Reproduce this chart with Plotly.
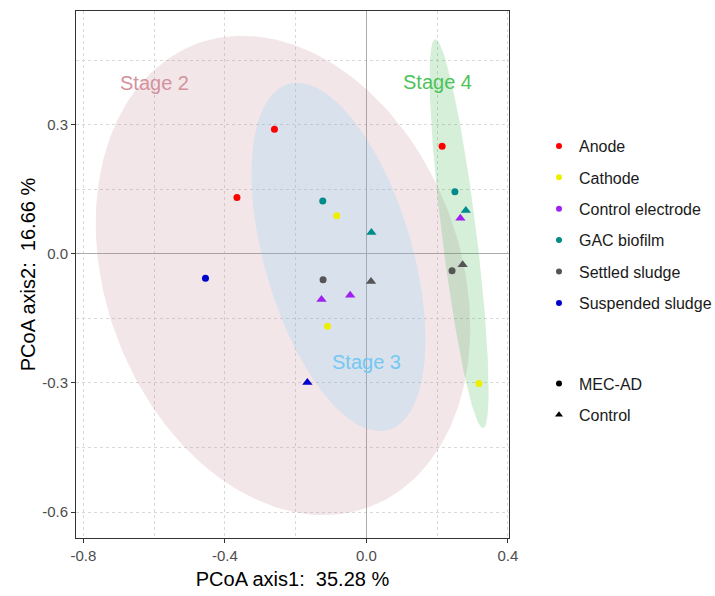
import numpy as np
import plotly.graph_objects as go

# ---- sample scores on the first two PCoA axes ----
sample_types = ["Anode", "Cathode", "Control electrode", "GAC biofilm",
                "Settled sludge", "Suspended sludge"]
type_colors = ["#FF0000", "#EEEE00", "#A020F0", "#008B8B", "#555555", "#0000CD"]

anode_x = [-0.260, -0.366, 0.214]
anode_y = [0.290, 0.131, 0.250]
anode_trt = ["MEC-AD", "MEC-AD", "MEC-AD"]

cathode_x = [-0.084, -0.110, 0.318]
cathode_y = [0.089, -0.168, -0.301]
cathode_trt = ["MEC-AD", "MEC-AD", "MEC-AD"]

ctrl_elec_x = [0.2655, -0.127, -0.046]
ctrl_elec_y = [0.083, -0.106, -0.096]
ctrl_elec_trt = ["Control", "Control", "Control"]

gac_x = [-0.1235, 0.250, 0.014, 0.281]
gac_y = [0.123, 0.1447, 0.050, 0.101]
gac_trt = ["MEC-AD", "MEC-AD", "Control", "Control"]

settled_x = [-0.1226, 0.242, 0.013, 0.272]
settled_y = [-0.060, -0.039, -0.064, -0.025]
settled_trt = ["MEC-AD", "MEC-AD", "Control", "Control"]

suspended_x = [-0.455, -0.167]
suspended_y = [-0.0564, -0.299]
suspended_trt = ["MEC-AD", "Control"]

treatments = ["MEC-AD", "Control"]
treatment_symbols = {"MEC-AD": "circle", "Control": "triangle-up"}

# axis ticks
x_tick_vals = [-0.8, -0.4, 0.0, 0.4]
x_tick_text = ["-0.8", "-0.4", "0.0", "0.4"]
y_tick_vals = [-0.6, -0.3, 0.0, 0.3]
y_tick_text = ["-0.6", "-0.3", "0.0", "0.3"]

# ---- stage ellipses: centre and shape (covariance-like) matrix ----
stage_names = ["Stage 2", "Stage 3", "Stage 4"]
stage_centers = [(-0.236, -0.050), (-0.079, -0.007), (0.262, 0.047)]
stage_shapes = [
    [[0.2801, -0.0640], [-0.0640, 0.3104]],
    [[0.06043, -0.04742], [-0.04742, 0.16383]],
    [[0.006946, -0.03039], [-0.03039, 0.20423]],
]
stage_fills = ["rgba(190,130,145,0.20)", "rgba(117,205,248,0.20)",
               "rgba(45,175,65,0.20)"]
stage_label_colors = ["#D4929D", "#74C8F4", "#4CC35A"]
stage_label_pos = [(-0.598, 0.398), (0.0, -0.252), (0.2006, 0.399)]

series = [
    (anode_x, anode_y, anode_trt),
    (cathode_x, cathode_y, cathode_trt),
    (ctrl_elec_x, ctrl_elec_y, ctrl_elec_trt),
    (gac_x, gac_y, gac_trt),
    (settled_x, settled_y, settled_trt),
    (suspended_x, suspended_y, suspended_trt),
]

FONT = "Liberation Sans, Arial, sans-serif"

fig = go.Figure()

# ellipses drawn underneath the samples
t = np.linspace(0, 2 * np.pi, 241)
unit = np.vstack([np.cos(t), np.sin(t)])
for (cx, cy), shape, fillc in zip(stage_centers, stage_shapes, stage_fills):
    L = np.linalg.cholesky(np.array(shape))
    pts = L @ unit
    fig.add_trace(go.Scatter(
        x=cx + pts[0], y=cy + pts[1], mode="lines", fill="toself",
        fillcolor=fillc, line=dict(width=0), hoverinfo="skip",
        showlegend=False))

# sample points, coloured by sample type and shaped by treatment
for name, color, (xs, ys, trt) in zip(sample_types, type_colors, series):
    fig.add_trace(go.Scatter(
        x=xs, y=ys, mode="markers", name=name, showlegend=False,
        marker=dict(color=color, opacity=1,
                    symbol=[treatment_symbols[v] for v in trt],
                    size=[7 if v == "MEC-AD" else 9 for v in trt],
                    line=dict(width=0))))

# legend keys: sample type
for i, (name, color) in enumerate(zip(sample_types, type_colors)):
    fig.add_trace(go.Scatter(
        x=[None], y=[None], mode="markers", name=name,
        legend="legend", legendgroup=f"type{i}",
        marker=dict(color=color, symbol="circle", size=6, opacity=1)))

# legend keys: treatment
for i, trt in enumerate(treatments):
    fig.add_trace(go.Scatter(
        x=[None], y=[None], mode="markers", name=trt,
        legend="legend2", legendgroup=f"trt{i}",
        marker=dict(color="black", symbol=treatment_symbols[trt],
                    size=6 if trt == "MEC-AD" else 7, opacity=1)))

for name, (lx, ly), col in zip(stage_names, stage_label_pos, stage_label_colors):
    fig.add_annotation(x=lx, y=ly, text=name, showarrow=False,
                       font=dict(family=FONT, size=20, color=col))

axis_common = dict(
    showline=True, mirror=True, linecolor="#333333", linewidth=1,
    ticks="outside", ticklen=4, tickcolor="#333333",
    tickfont=dict(family=FONT, size=15, color="#4D4D4D"),
    showgrid=True, gridcolor="#D9D9D9", gridwidth=1, griddash="dot",
    zeroline=True, zerolinecolor="#ABABAB", zerolinewidth=1.2,
)

fig.update_xaxes(
    range=[-0.821, 0.403], tickmode="array",
    tickvals=x_tick_vals, ticktext=x_tick_text,
    minor=dict(dtick=0.2, tick0=0, showgrid=True, gridcolor="#D9D9D9",
               griddash="dot"),
    title=dict(text="PCoA axis1:  35.28 %", standoff=8,
               font=dict(family=FONT, size=20, color="black")),
    **axis_common)
fig.update_yaxes(
    range=[-0.6604, 0.5647], tickmode="array",
    tickvals=y_tick_vals, ticktext=y_tick_text,
    minor=dict(dtick=0.15, tick0=0, showgrid=True, gridcolor="#D9D9D9",
               griddash="dot"),
    title=dict(text="PCoA axis2:  16.66 %", standoff=1,
               font=dict(family=FONT, size=20, color="black")),
    **axis_common)

legend_common = dict(
    xref="container", yref="container", xanchor="left", yanchor="top",
    bgcolor="rgba(0,0,0,0)", borderwidth=0, tracegroupgap=7.6,
    itemsizing="trace", font=dict(family=FONT, size=16, color="#1A1A1A"),
)

fig.update_layout(
    width=715, height=596,
    margin=dict(l=76, r=206, t=10, b=56),
    paper_bgcolor="white", plot_bgcolor="white",
    font=dict(family=FONT),
    legend=dict(x=539 / 715, y=1 - 129 / 596, **legend_common),
    legend2=dict(x=539 / 715, y=1 - 366.5 / 596, **legend_common),
)

fig.write_html("out.html")
